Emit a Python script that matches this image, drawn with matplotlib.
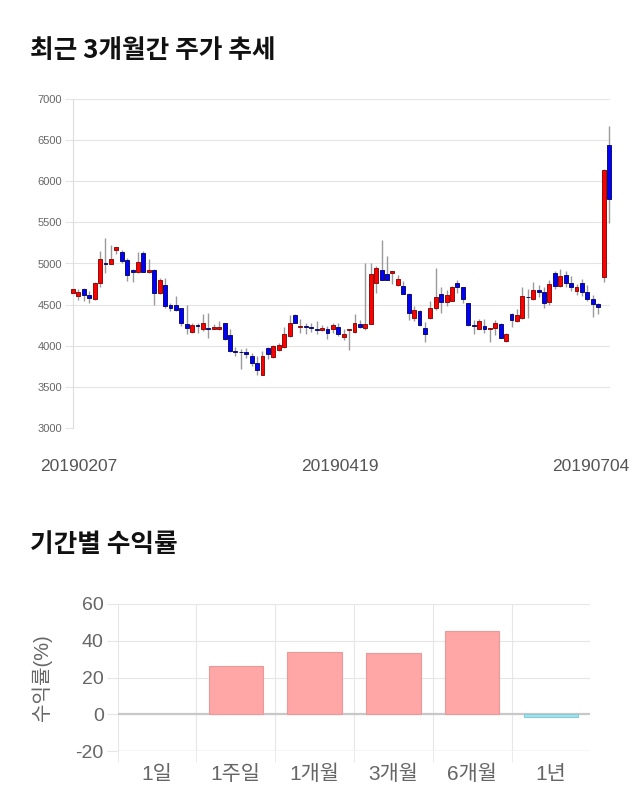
import matplotlib
matplotlib.use("Agg")
import matplotlib.pyplot as plt

plt.rcParams['font.family'] = ['Liberation Sans', 'Noto Sans CJK KR', 'DejaVu Sans']

# ---- candlestick data ----
opens = [4640, 4600, 4690, 4620, 4565, 4765, 5010, 5000, 5160, 5140,
         5040, 4925, 4900, 5130, 4900, 4920, 4645, 4735, 4490, 4500,
         4455, 4270, 4170, 4255, 4200, 4215, 4205, 4205, 4275, 4135,
         3940, 3930, 3925, 3875, 3795, 3645, 3975, 3865, 3950, 3985,
         4120, 4375, 4228, 4243, 4230, 4200, 4190, 4205, 4200, 4225,
         4105, 4188, 4170, 4270, 4210, 4270, 4760, 4920, 4875, 4885,
         4735, 4725, 4630, 4332, 4420, 4210, 4332, 4453, 4630, 4535,
         4550, 4757, 4717, 4522, 4250, 4206, 4239, 4198, 4210, 4267,
         4056, 4392, 4299, 4332, 4595, 4571, 4676, 4656, 4534, 4887,
         4725, 4866, 4757, 4664, 4765, 4656, 4571, 4502, 4840, 6440]
highs = [4700, 4690, 4700, 4665, 4770, 5150, 5310, 5230, 5200, 5160,
         5070, 4930, 5140, 5155, 5050, 4930, 4825, 4825, 4520, 4600,
         4460, 4490, 4280, 4280, 4380, 4400, 4260, 4300, 4280, 4200,
         3990, 3960, 3975, 3915, 3875, 3935, 3985, 4015, 4035, 4230,
         4370, 4380, 4330, 4280, 4280, 4300, 4255, 4240, 4280, 4280,
         4206, 4200, 4380, 4310, 5000, 5000, 4970, 5290, 5090, 4910,
         4865, 4785, 4640, 4480, 4440, 4290, 4540, 4945, 4717, 4676,
         4725, 4797, 4720, 4525, 4311, 4320, 4328, 4215, 4311, 4280,
         4160, 4400, 4441, 4717, 4684, 4777, 4737, 4717, 4797, 4907,
         4939, 4907, 4846, 4745, 4806, 4733, 4623, 4522, 6150, 6670]
lows = [4620, 4560, 4540, 4515, 4555, 4720, 4890, 4990, 5110, 5010,
        4785, 4775, 4890, 4900, 4890, 4500, 4625, 4460, 4420, 4420,
        4240, 4140, 4160, 4160, 4180, 4100, 4200, 4195, 4070, 3930,
        3875, 3720, 3855, 3755, 3645, 3640, 3835, 3855, 3940, 3975,
        4110, 4275, 4150, 4140, 4165, 4140, 4180, 4085, 4160, 4120,
        4075, 3945, 4160, 4220, 4190, 4265, 4645, 4800, 4795, 4745,
        4730, 4625, 4310, 4300, 4240, 4045, 4320, 4440, 4400, 4482,
        4545, 4645, 4514, 4240, 4137, 4200, 4150, 4045, 4125, 4090,
        4044, 4230, 4290, 4320, 4340, 4555, 4591, 4461, 4490, 4692,
        4715, 4717, 4664, 4623, 4603, 4540, 4352, 4392, 4780, 5490]
closes = [4690, 4655, 4620, 4585, 4760, 5055, 5000, 5060, 5200, 5030,
          4860, 4900, 5020, 4900, 4920, 4645, 4805, 4480, 4455, 4440,
          4280, 4215, 4250, 4240, 4280, 4205, 4230, 4230, 4085, 3935,
          3930, 3925, 3895, 3795, 3705, 3875, 3895, 3995, 4005, 4145,
          4280, 4280, 4240, 4230, 4215, 4195, 4210, 4160, 4258, 4145,
          4137, 4198, 4280, 4226, 4267, 4875, 4940, 4805, 4800, 4905,
          4815, 4630, 4400, 4437, 4247, 4137, 4453, 4595, 4535, 4611,
          4713, 4717, 4571, 4247, 4245, 4299, 4198, 4210, 4271, 4097,
          4137, 4311, 4376, 4603, 4590, 4672, 4656, 4514, 4745, 4725,
          4850, 4757, 4717, 4717, 4656, 4563, 4502, 4469, 6140, 5790]
date_labels = ["20190207", "20190419", "20190704"]
price_ticks = [3000, 3500, 4000, 4500, 5000, 5500, 6000, 6500, 7000]

# ---- returns data ----
periods = ["1일", "1주일", "1개월", "3개월", "6개월", "1년"]
returns = [0.0, 26.5, 33.8, 33.3, 45.3, -1.3]
ret_ticks = [-20, 0, 20, 40, 60]

W, H = 640, 810
fig = plt.figure(figsize=(W / 100, H / 100), dpi=100)


def fx(px):
    return px / W


def fy(py):
    return 1 - py / H


# titles
fig.text(fx(30), fy(51), "최근 3개월간 주가 추세", family=['Noto Sans CJK KR'],
         fontsize=18.5, fontweight='bold', va='center', ha='left', color='#111111')
fig.text(fx(30), fy(544), "기간별 수익률", family=['Noto Sans CJK KR'],
         fontsize=18.5, fontweight='bold', va='center', ha='left', color='#111111')

# ---- top candlestick chart ----
ax = fig.add_axes([fx(73), fy(428), fx(610) - fx(73), fy(99) - fy(428)])
n = len(opens)
xs = list(range(n))
ax.vlines(xs, lows, highs, color='#9a9a9a', linewidth=1, zorder=2, clip_on=False)
for i in xs:
    o, c = opens[i], closes[i]
    up = c >= o
    fc = '#ff0000' if up else '#0000ff'
    ec = '#8a1010' if up else '#10106a'
    ax.bar(i, max(abs(c - o), 1), bottom=min(o, c), width=0.72, color=fc,
           edgecolor=ec, linewidth=0.7, zorder=3, clip_on=False)

ax.set_xlim(0, (n - 1) * 537 / 536)
ax.set_ylim(3000, 7000)
ax.set_yticks(price_ticks)
ax.set_yticklabels([str(t) for t in price_ticks])
ax.grid(axis='y', color='#e4e4e4', linewidth=0.8, zorder=0)
ax.tick_params(axis='y', length=6, color='#e4e4e4', labelsize=8, labelcolor='#666666', pad=2)
ax.set_xticks([1.1, 49.3, 95.7])
ax.set_xticklabels(date_labels)
ax.tick_params(axis='x', length=0, labelsize=12.5, labelcolor='#555555', pad=22)
for s in ['top', 'right', 'bottom']:
    ax.spines[s].set_visible(False)
ax.spines['left'].set_color('#dddddd')
ax.spines['left'].set_linewidth(0.8)
ax.set_axisbelow(True)

# ---- bottom returns chart ----
bx = fig.add_axes([fx(117.6), fy(751), fx(590.4) - fx(117.6), fy(604) - fy(751)])
pos = list(range(len(periods)))
cols = ['#ffa6a6' if v >= 0 else '#a8e2ea' for v in returns]
ecs = ['#e89a9a' if v >= 0 else '#86cbd8' for v in returns]
lws = [0.8 if v != 0 else 0 for v in returns]
bx.bar(pos, returns, width=0.69, color=cols, edgecolor=ecs, linewidth=lws, zorder=3)
bx.set_xlim(-0.5, len(periods) - 0.5)
bx.set_ylim(-20, 60)
bx.set_yticks(ret_ticks)
bx.set_yticklabels([str(t) for t in ret_ticks])
bx.grid(axis='y', color='#e6e6e6', linewidth=0.8, zorder=0)
bx.axhline(0, color='#c8c8c8', linewidth=1.6, zorder=2)
bx.axhline(-20, color='#cccccc', linewidth=0.9, zorder=2)
bx.set_xticks(pos)
bx.set_xticklabels(periods)
bx.set_xticks([p - 0.5 for p in pos], minor=True)
bx.grid(axis='x', which='minor', color='#e6e6e6', linewidth=0.8, zorder=0)
bx.tick_params(axis='x', which='major', length=0, labelsize=15, labelcolor='#666666', pad=10)
bx.tick_params(axis='x', which='minor', length=8, color='#e6e6e6')
bx.tick_params(axis='y', length=8, color='#e6e6e6', labelsize=14, labelcolor='#666666', pad=2)
for s in bx.spines.values():
    s.set_visible(False)
bx.set_axisbelow(True)
bx.set_ylabel("수익률(%)", fontsize=14.5, color='#666666', labelpad=17)

fig.savefig("out.png", dpi=100)
